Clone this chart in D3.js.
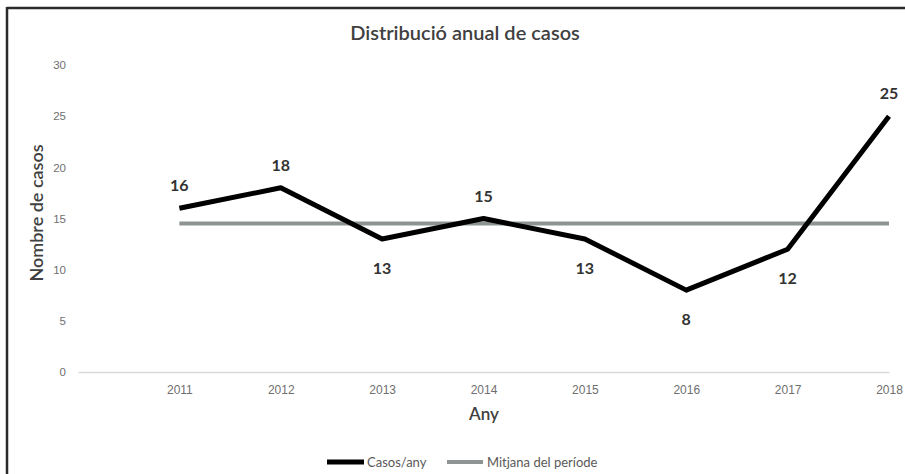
<!DOCTYPE html>
<html>
<head>
<meta charset="utf-8">
<script src="https://cdn.jsdelivr.net/npm/d3@7"></script>
<style>
  body { margin: 0; background: #fff; }
  svg { display: block; font-family: Lato, "Open Sans", sans-serif; }
</style>
</head>
<body>
<div id="chart"></div>
<script>
const years = ["2011", "2012", "2013", "2014", "2015", "2016", "2017", "2018"];
const cases = [16, 18, 13, 15, 13, 8, 12, 25];
const periodMean = 14.5;
const yTicks = [0, 5, 10, 15, 20, 25, 30];

const W = 905, H = 474;
const svg = d3.select("#chart").append("svg").attr("width", W).attr("height", H);

// frame (only top and left edges are visible in the reference)
svg.append("line").attr("x1", 7).attr("x2", W).attr("y1", 8).attr("y2", 8)
    .attr("stroke", "#2b2b2b").attr("stroke-width", 2.5);
svg.append("line").attr("x1", 7).attr("x2", 7).attr("y1", 7).attr("y2", H)
    .attr("stroke", "#2b2b2b").attr("stroke-width", 2.5);

// an empty first category, like the spreadsheet version
const x = d3.scalePoint().domain(["", ...years]).range([78, 889]).padding(0);
const y = d3.scaleLinear().domain([0, 30]).range([372, 65]);

// title
svg.append("text")
    .attr("x", 465).attr("y", 40)
    .attr("text-anchor", "middle")
    .style("font-size", "20px").style("font-weight", 600)
    .attr("fill", "#404040")
    .text("Distribució anual de casos");

// y axis labels
const yAxis = svg.append("g")
    .attr("transform", "translate(69,0)")
    .call(d3.axisLeft(y).tickValues(yTicks).tickSize(0).tickPadding(3));
yAxis.select(".domain").remove();
yAxis.selectAll("text").attr("fill", "#6f6f6f").style("font-size", "11.5px");

// x axis
const xAxis = svg.append("g")
    .attr("transform", "translate(0,372)")
    .call(d3.axisBottom(x).tickSize(0).tickPadding(13));
xAxis.select(".domain").attr("stroke", "#d9d9d9").attr("stroke-width", 1.5);
xAxis.selectAll("text").attr("fill", "#6f6f6f").style("font-size", "12px");

// axis titles
svg.append("text")
    .attr("transform", "translate(43,213) rotate(-90)")
    .attr("text-anchor", "middle")
    .style("font-size", "18px").style("font-weight", 600)
    .attr("fill", "#404040")
    .text("Nombre de casos");

svg.append("text")
    .attr("x", 484).attr("y", 420)
    .attr("text-anchor", "middle")
    .style("font-size", "17px").style("font-weight", 600)
    .attr("fill", "#404040")
    .text("Any");

// mean line
svg.append("line")
    .attr("x1", x(years[0])).attr("x2", x(years[years.length - 1]))
    .attr("y1", y(periodMean)).attr("y2", y(periodMean))
    .attr("stroke", "#8e9393").attr("stroke-width", 4);

// cases line
const line = d3.line().x((d, i) => x(years[i])).y((d) => y(d));
svg.append("path")
    .datum(cases)
    .attr("d", line)
    .attr("fill", "none")
    .attr("stroke", "#000")
    .attr("stroke-width", 5)
    .attr("stroke-linejoin", "round");

// data labels: above when over the mean, below otherwise
svg.append("g").selectAll("text")
    .data(cases)
    .enter()
    .append("text")
    .attr("x", (d, i) => x(years[i]))
    .attr("y", (d) => (d > periodMean ? y(d) - 17 : y(d) + 35))
    .attr("text-anchor", "middle")
    .style("font-size", "16px").style("font-weight", 700)
    .attr("fill", "#333")
    .text((d) => d);

// legend
const legend = svg.append("g").attr("transform", "translate(0,462)");
legend.append("line").attr("x1", 327).attr("x2", 364).attr("y1", 0).attr("y2", 0)
    .attr("stroke", "#000").attr("stroke-width", 5);
legend.append("text").attr("x", 367).attr("y", 4.5)
    .style("font-size", "13px").attr("fill", "#595959").text("Casos/any");
legend.append("line").attr("x1", 447).attr("x2", 483).attr("y1", 0).attr("y2", 0)
    .attr("stroke", "#8e9393").attr("stroke-width", 4);
legend.append("text").attr("x", 487).attr("y", 4.5)
    .style("font-size", "13px").attr("fill", "#595959").text("Mitjana del període");
</script>
</body>
</html>
